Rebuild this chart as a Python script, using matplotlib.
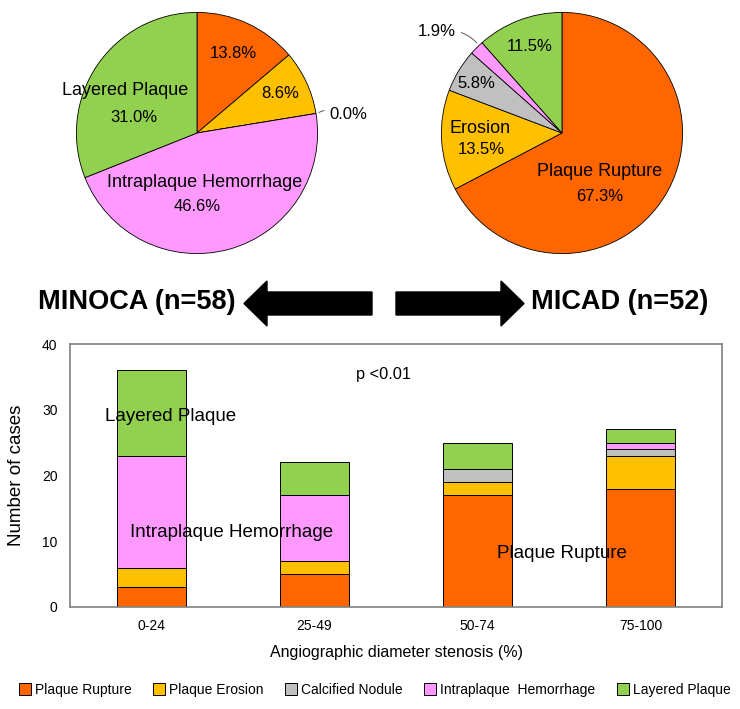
import matplotlib.pyplot as plt
import numpy as np

# colours per lesion type
names = ["Plaque Rupture", "Plaque Erosion", "Calcified Nodule", "Intraplaque  Hemorrhage", "Layered Plaque"]
colors = ["#FF6600", "#FFC000", "#C0C0C0", "#FF99FF", "#92D050"]

# pie data (counts)
minoca = [8, 5, 0, 27, 18]
micad = [35, 7, 3, 1, 6]

# stacked bars by stenosis group
groups = ["0-24", "25-49", "50-74", "75-100"]
rupture = [3, 5, 17, 18]
erosion = [3, 2, 2, 5]
calcified = [0, 0, 2, 1]
iph = [17, 10, 0, 1]
layered = [13, 5, 4, 2]

plt.rcParams["font.family"] = ["Liberation Sans", "DejaVu Sans"]

fig = plt.figure(figsize=(7.4, 7.09), dpi=100)
W, H = 740, 709


def pie_axes(cx, cy, r):
    return fig.add_axes([(cx - r) / W, (H - cy - r) / H, 2 * r / W, 2 * r / H])


fs_name = 13
fs_pct = 12

# left pie: MINOCA
ax1 = pie_axes(197, 133, 123)
ax1.pie(minoca, colors=colors, startangle=90, counterclock=False,
        wedgeprops=dict(edgecolor="black", linewidth=0.6))
ax1.set_xlim(-1.02, 1.02)
ax1.set_ylim(-1.02, 1.02)
ax1.axis("off")
ax1.text(0.30, 0.66, "13.8%", ha="center", va="center", fontsize=fs_pct)
ax1.text(0.69, 0.33, "8.6%", ha="center", va="center", fontsize=fs_pct)
ax1.text(-0.60, 0.35, "Layered Plaque", ha="center", va="center", fontsize=fs_name)
ax1.text(-0.52, 0.13, "31.0%", ha="center", va="center", fontsize=fs_pct)
ax1.text(0.06, -0.41, "Intraplaque Hemorrhage", ha="center", va="center", fontsize=fs_name)
ax1.text(0.0, -0.61, "46.6%", ha="center", va="center", fontsize=fs_pct)
ax1.annotate("0.0%", xy=(0.99, 0.16), xytext=(1.10, 0.15), ha="left", va="center",
             fontsize=fs_pct, annotation_clip=False,
             arrowprops=dict(arrowstyle="-", color="#404040", lw=0.6,
                             connectionstyle="arc3,rad=0.3"))

# right pie: MICAD
ax2 = pie_axes(562, 133, 123)
ax2.pie(micad, colors=colors, startangle=90, counterclock=False,
        wedgeprops=dict(edgecolor="black", linewidth=0.6))
ax2.set_xlim(-1.02, 1.02)
ax2.set_ylim(-1.02, 1.02)
ax2.axis("off")
ax2.text(-0.27, 0.72, "11.5%", ha="center", va="center", fontsize=fs_pct)
ax2.text(-0.71, 0.41, "5.8%", ha="center", va="center", fontsize=fs_pct)
ax2.text(-0.68, 0.04, "Erosion", ha="center", va="center", fontsize=fs_name)
ax2.text(-0.67, -0.14, "13.5%", ha="center", va="center", fontsize=fs_pct)
ax2.text(0.31, -0.32, "Plaque Rupture", ha="center", va="center", fontsize=fs_name)
ax2.text(0.31, -0.53, "67.3%", ha="center", va="center", fontsize=fs_pct)
ax2.annotate("1.9%", xy=(-0.69, 0.73), xytext=(-0.88, 0.84), ha="right", va="center",
             fontsize=fs_pct, annotation_clip=False,
             arrowprops=dict(arrowstyle="-", color="#404040", lw=0.6,
                             connectionstyle="arc3,rad=-0.3"))

# arrows and group titles on an overlay in pixel units
ov = fig.add_axes([0, 0, 1, 1])
ov.set_xlim(0, W)
ov.set_ylim(H, 0)
ov.axis("off")
ov.arrow(372, 303.5, -128, 0, width=23, head_width=45, head_length=23,
         length_includes_head=True, color="black")
ov.arrow(396, 303.5, 128, 0, width=23, head_width=45, head_length=23,
         length_includes_head=True, color="black")
ov.text(137, 302, "MINOCA (n=58)", ha="center", va="center", fontsize=19.5,
        fontweight="bold")
ov.text(620, 302, "MICAD (n=52)", ha="center", va="center", fontsize=19.5,
        fontweight="bold")

# stacked bar chart
ax = fig.add_axes([70 / W, (H - 607) / H, 652 / W, 263 / H])
x = np.arange(len(groups))
bottom = np.zeros(len(groups))
for vals, c, n in zip([rupture, erosion, calcified, iph, layered], colors, names):
    ax.bar(x, vals, 0.42, bottom=bottom, color=c, edgecolor="black", linewidth=0.7, label=n)
    bottom += np.array(vals)
ax.set_xlim(-0.5, 3.5)
ax.set_ylim(0, 40)
ax.set_yticks([0, 10, 20, 30, 40])
ax.set_xticks(x)
ax.set_xticklabels(groups)
ax.tick_params(length=0, pad=9, labelsize=10)
for s in ax.spines.values():
    s.set_color("#808080")
    s.set_linewidth(1.2)
ax.set_ylabel("Number of cases", fontsize=13.5, labelpad=12)
ax.set_xlabel("Angiographic diameter stenosis (%)", fontsize=11.5, labelpad=8)
ax.text(0.12, 29, "Layered Plaque", ha="center", va="center", fontsize=13.5)
ax.text(0.49, 11.4, "Intraplaque Hemorrhage", ha="center", va="center", fontsize=13.5)
ax.text(2.52, 8.2, "Plaque Rupture", ha="center", va="center", fontsize=13.5)
ax.text(1.42, 35.4, "p <0.01", ha="center", va="center", fontsize=11.8)

fig.legend(loc="center", bbox_to_anchor=(0.506, 1 - 690 / H), ncol=5, frameon=False,
           fontsize=10, handlelength=0.9, handleheight=1.0, handletextpad=0.25,
           columnspacing=1.55)

fig.savefig("out.png", dpi=100)
